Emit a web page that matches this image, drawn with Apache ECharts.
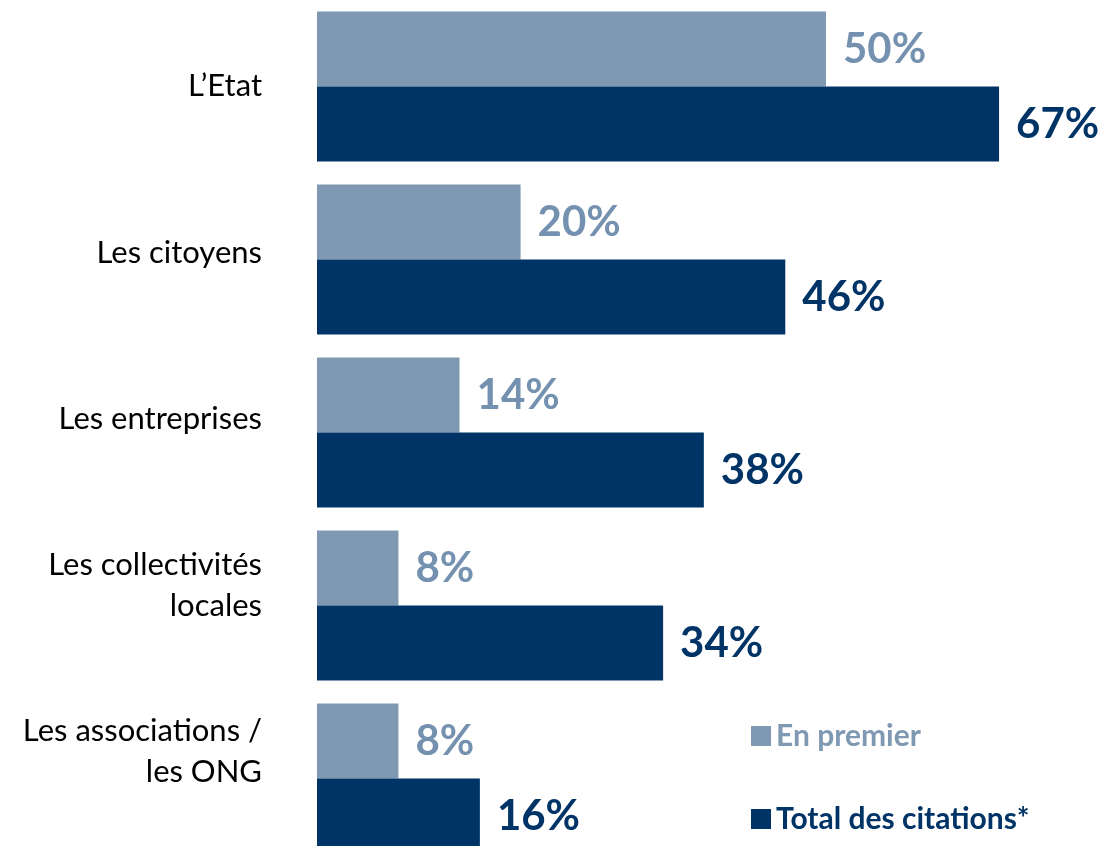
<!DOCTYPE html>
<html>
<head>
<meta charset="utf-8">
<script src="https://cdn.jsdelivr.net/npm/echarts@6/dist/echarts.min.js"></script>
<style>
  html, body { margin: 0; padding: 0; background: #fff; }
  #main { width: 1105px; height: 846px; }
</style>
</head>
<body>
<div id="main"></div>
<script>
var categories = ['L\u2019Etat', 'Les citoyens', 'Les entreprises', 'Les collectivités\nlocales', 'Les associations /\nles ONG'];
var enPremier = [50, 20, 14, 8, 8];
var totalCitations = [67, 46, 38, 34, 16];
var seriesNames = ['En premier', 'Total des citations*'];

var lightColor = '#8099b3';
var darkColor = '#003466';

var myChart = echarts.init(document.getElementById('main'));

var option = {
  animation: false,
  legend: {
    orient: 'vertical',
    left: 746,
    top: 716,
    itemGap: 53,
    itemWidth: 20,
    itemHeight: 20,
    icon: 'rect',
    data: [
      { name: seriesNames[0], textStyle: { color: lightColor } },
      { name: seriesNames[1], textStyle: { color: darkColor } }
    ],
    textStyle: { fontFamily: 'Lato', fontWeight: 'bold', fontSize: 30 }
  },
  grid: [
    { left: 317, top: 0, width: 1018, height: 865, outerBoundsMode: 'none' },
    { left: 317, top: 3, width: 10, height: 832, outerBoundsMode: 'none' }
  ],
  xAxis: [
    { type: 'value', min: 0, max: 100, show: false },
    { type: 'value', gridIndex: 1, show: false }
  ],
  yAxis: [
    {
      type: 'category',
      inverse: true,
      data: categories,
      axisLine: { show: false },
      axisTick: { show: false },
      axisLabel: { show: false }
    },
    {
      type: 'category',
      gridIndex: 1,
      inverse: true,
      data: categories,
      axisLine: { show: false },
      axisTick: { show: false },
      axisLabel: {
        color: '#000',
        fontFamily: 'Lato',
        fontSize: 31,
        lineHeight: 41,
        margin: 55,
        align: 'right'
      }
    }
  ],
  series: [
    {
      name: seriesNames[0],
      type: 'bar',
      data: enPremier,
      barWidth: 75,
      barGap: '0%',
      itemStyle: { color: lightColor },
      label: {
        show: true,
        position: 'right',
        distance: 17,
        formatter: '{c}%',
        color: '#7591b0',
        fontFamily: 'Lato',
        fontWeight: 'bold',
        fontSize: 42
      }
    },
    {
      name: seriesNames[1],
      type: 'bar',
      data: totalCitations,
      barWidth: 75,
      barGap: '0%',
      itemStyle: { color: darkColor },
      label: {
        show: true,
        position: 'right',
        distance: 17,
        formatter: '{c}%',
        color: darkColor,
        fontFamily: 'Lato',
        fontWeight: 'bold',
        fontSize: 42
      }
    }
  ]
};

myChart.setOption(option);
window.addEventListener('resize', function () {
  myChart.resize();
});
</script>
</body>
</html>
